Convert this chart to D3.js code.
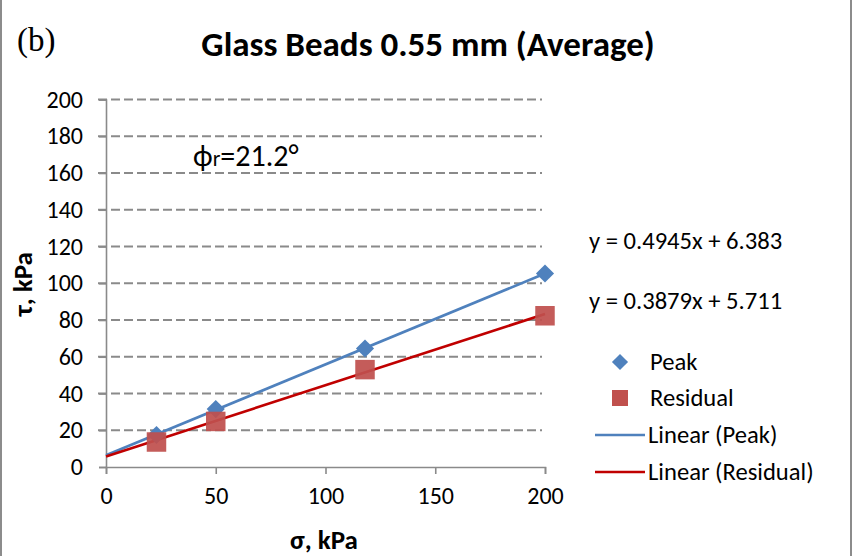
<!DOCTYPE html>
<html><head><meta charset="utf-8">
<script src="https://cdn.jsdelivr.net/npm/d3@7"></script>
<style>body{margin:0;background:#fff}svg{display:block}text{font-family:Carlito,Lato,"Open Sans",sans-serif}</style>
</head><body>
<script>
const sigma = [23, 50, 118, 200];
const peak = [17.4, 31.5, 64.5, 105.3];
const residual = [13.6, 24.8, 53, 82.3];
const peakFit = {slope: 0.4945, intercept: 6.383};
const resFit = {slope: 0.3879, intercept: 5.711};
const xTicks = [0, 50, 100, 150, 200];
const yTicks = [0, 20, 40, 60, 80, 100, 120, 140, 160, 180, 200];
const title = "Glass Beads 0.55 mm (Average)";
const eqPeak = "y = 0.4945x + 6.383";
const eqRes = "y = 0.3879x + 5.711";
const legendLabels = ["Peak", "Residual", "Linear (Peak)", "Linear (Residual)"];

const W = 852, H = 556;
const blue = "#4f81bd", red = "#c0504d", redLine = "#c00000";
const svg = d3.select("body").append("svg").attr("width", W).attr("height", H);
svg.append("rect").attr("width", W).attr("height", H).attr("fill", "#fff");
svg.append("line").attr("x1",1).attr("x2",1).attr("y1",0).attr("y2",H).attr("stroke","#8c8c8c").attr("stroke-width",2);
svg.append("line").attr("x1",W-1).attr("x2",W-1).attr("y1",0).attr("y2",H).attr("stroke","#8c8c8c").attr("stroke-width",2);

const x = d3.scaleLinear().domain([0, 200]).range([106, 545]);
const y = d3.scaleLinear().domain([0, 200]).range([467, 99.5]);

// grid
svg.append("g").selectAll("line").data(yTicks.slice(1)).join("line")
  .attr("x1", 98).attr("x2", 542).attr("y1", d => y(d)).attr("y2", d => y(d))
  .attr("stroke", "#8a8a8a").attr("stroke-width", 1.8).attr("stroke-dasharray", "9,4");

// axes
const yAxis = svg.append("g").attr("transform", `translate(${x(0)},0)`)
  .call(d3.axisLeft(y).tickValues(yTicks).tickSize(7).tickPadding(16));
const xAxis = svg.append("g").attr("transform", `translate(0,${y(0)})`)
  .call(d3.axisBottom(x).tickValues(xTicks).tickSize(7).tickPadding(13));
[yAxis, xAxis].forEach(a => {
  a.attr("font-size", null).attr("font-family", null);
  a.select(".domain").attr("stroke", "#8a8a8a").attr("stroke-width", 1.6);
  a.selectAll(".tick line").attr("stroke", "#8a8a8a").attr("stroke-width", 1.6);
  a.selectAll("text").style("font-size", "24px").attr("fill", "#000");
});

// trend lines
const fitLine = f => d3.line()([[x(0), y(f.intercept)], [x(200), y(f.slope*200 + f.intercept)]]);
svg.append("path").attr("d", fitLine(peakFit)).attr("stroke", blue).attr("stroke-width", 2.7).attr("fill", "none");
svg.append("path").attr("d", fitLine(resFit)).attr("stroke", redLine).attr("stroke-width", 2.7).attr("fill", "none");

// markers
svg.append("g").selectAll("path").data(sigma).join("path")
  .attr("d", d3.symbol().type(d3.symbolSquare).size(165))
  .attr("transform", (d, i) => `translate(${x(d)},${y(peak[i])}) rotate(45)`)
  .attr("fill", blue);
svg.append("g").selectAll("path").data(sigma).join("path")
  .attr("d", d3.symbol().type(d3.symbolSquare).size(380))
  .attr("transform", (d, i) => `translate(${x(d)},${y(residual[i])})`)
  .attr("fill", red).attr("opacity", 0.93);

// texts
svg.append("text").attr("x", 428).attr("y", 56).attr("text-anchor", "middle")
  .style("font-size", "35px").attr("font-weight", "bold").text(title);
svg.append("text").attr("x", 17).attr("y", 51).style("font-size", "33px")
  .style("font-family", "'Liberation Serif','DejaVu Serif',serif").text("(b)");
svg.append("text").attr("x", 324).attr("y", 549).attr("text-anchor", "middle")
  .style("font-size", "27px").attr("font-weight", "bold").text("σ, kPa");
svg.append("text").attr("transform", "translate(32,284) rotate(-90)").attr("text-anchor", "middle")
  .style("font-size", "27px").attr("font-weight", "bold").text("τ, kPa");
const phi = svg.append("text").attr("x", 193).attr("y", 166).style("font-size", "30px");
phi.append("tspan").text("ϕ");
phi.append("tspan").style("font-size", "22px").text("r");
phi.append("tspan").text("=21.2°");

svg.append("text").attr("x", 589).attr("y", 249).style("font-size", "24.6px").text(eqPeak);
svg.append("text").attr("x", 589).attr("y", 309).style("font-size", "24.6px").text(eqRes);

// legend
const ly = [362, 398, 435, 472];
svg.append("path").attr("d", d3.symbol().type(d3.symbolSquare).size(130))
  .attr("transform", `translate(620,${ly[0]}) rotate(45)`).attr("fill", blue);
svg.append("path").attr("d", d3.symbol().type(d3.symbolSquare).size(256))
  .attr("transform", `translate(620,${ly[1]})`).attr("fill", red);
svg.append("line").attr("x1", 595).attr("x2", 645).attr("y1", ly[2]).attr("y2", ly[2]).attr("stroke", blue).attr("stroke-width", 2.7);
svg.append("line").attr("x1", 595).attr("x2", 645).attr("y1", ly[3]).attr("y2", ly[3]).attr("stroke", redLine).attr("stroke-width", 2.7);
legendLabels.forEach((t, i) => {
  svg.append("text").attr("x", i < 2 ? 650 : 648).attr("y", ly[i] + 8).style("font-size", "24.6px").text(t);
});
</script>
</body></html>
